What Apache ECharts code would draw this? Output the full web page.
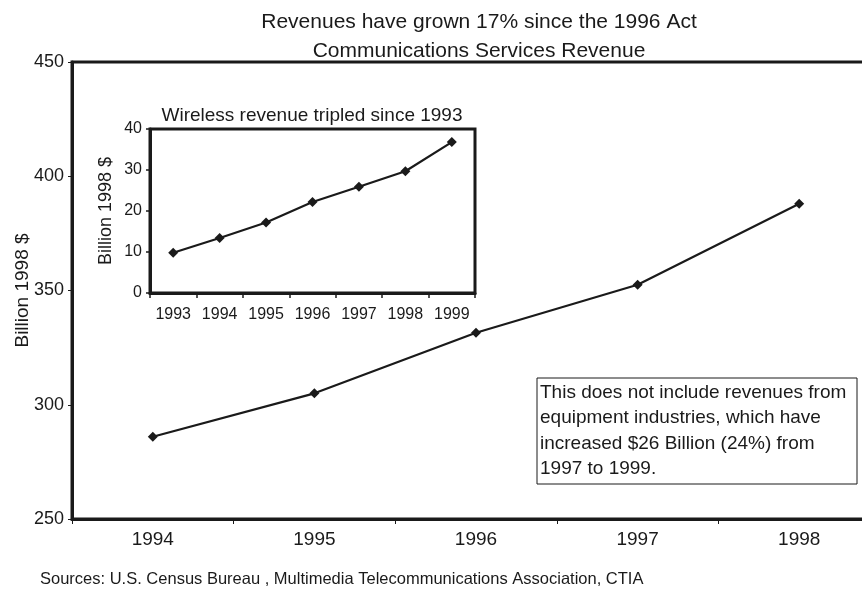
<!DOCTYPE html>
<html>
<head>
<meta charset="utf-8">
<script src="https://cdn.jsdelivr.net/npm/echarts@6/dist/echarts.min.js"></script>
<style>
  html, body { margin: 0; padding: 0; background: #fff; }
  #chart { width: 862px; height: 599px; }
</style>
</head>
<body>
<div id="chart"></div>
<script>
// Communications services revenue (billion 1998 $)
const mainYears = ['1994', '1995', '1996', '1997', '1998'];
const mainRevenue = [286, 305, 331.5, 352.5, 388];
const mainTicks = [250, 300, 350, 400, 450];

// Wireless revenue (billion 1998 $)
const wirelessYears = ['1993', '1994', '1995', '1996', '1997', '1998', '1999'];
const wirelessRevenue = [9.8, 13.4, 17.2, 22.2, 25.9, 29.7, 36.8];

const FONT = '"Liberation Sans", Arial, sans-serif';
const INK = '#1a1a1a';

const chart = echarts.init(document.getElementById('chart'), null, { renderer: 'canvas' });

chart.setOption({
  backgroundColor: '#fff',
  animation: false,
  textStyle: { fontFamily: FONT, color: INK },
  title: [
    {
      text: 'Revenues have grown 17% since the 1996 Act\nCommunications Services Revenue',
      left: 474, top: 3, textAlign: 'center',
      textStyle: { fontFamily: FONT, fontSize: 21, fontWeight: 'normal', color: INK, lineHeight: 29 }
    },
    {
      text: 'Wireless revenue tripled since 1993',
      left: 307, top: 101, textAlign: 'center',
      textStyle: { fontFamily: FONT, fontSize: 19, fontWeight: 'normal', color: INK }
    },
    {
      text: 'Sources: U.S. Census Bureau , Multimedia Telecommunications Association, CTIA',
      left: 35, top: 566,
      textStyle: { fontFamily: FONT, fontSize: 16.5, fontWeight: 'normal', color: INK }
    }
  ],
  grid: [
    {
      left: 72, top: 62, width: 808, height: 457,
      outerBoundsMode: 'none', containLabel: false,
      show: true, borderColor: INK, borderWidth: 3, backgroundColor: 'transparent'
    },
    {
      left: 150, top: 129, width: 325, height: 164,
      outerBoundsMode: 'none', containLabel: false,
      show: true, borderColor: INK, borderWidth: 3, backgroundColor: '#fff', z: 5
    }
  ],
  xAxis: [
    {
      gridIndex: 0, type: 'category', data: mainYears, boundaryGap: true,
      axisLine: { lineStyle: { color: INK, width: 3 } },
      axisTick: { show: true, length: 5, lineStyle: { color: INK, width: 1 } },
      axisLabel: { fontFamily: FONT, fontSize: 19, color: INK, margin: 11 },
      splitLine: { show: false }
    },
    {
      gridIndex: 1, type: 'category', data: wirelessYears, boundaryGap: true,
      axisLine: { lineStyle: { color: INK, width: 3 } },
      axisTick: { show: true, length: 5, lineStyle: { color: INK, width: 1.5 } },
      axisLabel: { fontFamily: FONT, fontSize: 16, color: INK, margin: 14 },
      splitLine: { show: false }, z: 6
    }
  ],
  yAxis: [
    {
      gridIndex: 0, type: 'value', min: 250, max: 450, interval: 50,
      name: 'Billion 1998 $', nameLocation: 'middle', nameGap: 40, nameRotate: 90,
      nameMoveOverlap: false,
      nameTextStyle: { fontFamily: FONT, fontSize: 19, color: INK },
      axisLine: { show: true, lineStyle: { color: INK, width: 3 } },
      axisTick: { show: true, length: 4, lineStyle: { color: INK, width: 1 } },
      axisLabel: {
        fontFamily: FONT, fontSize: 18, color: INK, margin: 8,
        formatter: v => mainTicks.includes(v) ? String(v) : ''
      },
      splitLine: { show: false }
    },
    {
      gridIndex: 1, type: 'value', min: 0, max: 40, interval: 10,
      name: 'Billion 1998 $', nameLocation: 'middle', nameGap: 35, nameRotate: 90,
      nameMoveOverlap: false,
      nameTextStyle: { fontFamily: FONT, fontSize: 18, color: INK },
      axisLine: { show: true, lineStyle: { color: INK, width: 3 } },
      axisTick: { show: true, length: 4, lineStyle: { color: INK, width: 1.5 } },
      axisLabel: { fontFamily: FONT, fontSize: 16, color: INK, margin: 8 },
      splitLine: { show: false }, z: 6
    }
  ],
  series: [
    {
      type: 'line', xAxisIndex: 0, yAxisIndex: 0, data: mainRevenue,
      symbol: 'diamond', symbolSize: 10, showSymbol: true,
      lineStyle: { color: INK, width: 2.2 }, itemStyle: { color: INK }, z: 3
    },
    {
      type: 'line', xAxisIndex: 1, yAxisIndex: 1, data: wirelessRevenue,
      symbol: 'diamond', symbolSize: 10, showSymbol: true,
      lineStyle: { color: INK, width: 2.2 }, itemStyle: { color: INK }, z: 7
    }
  ],
  graphic: [
    {
      type: 'rect', z: 10,
      shape: { x: 537, y: 378, width: 320, height: 106 },
      style: { fill: '#fff', stroke: INK, lineWidth: 1 }
    },
    {
      type: 'text', z: 11, left: 540, top: 380,
      style: {
        text: 'This does not include revenues from\nequipment industries, which have\nincreased $26 Billion (24%) from\n1997 to 1999.',
        font: '19px ' + FONT, fill: INK, lineHeight: 25.5
      }
    }
  ]
});
</script>
</body>
</html>
